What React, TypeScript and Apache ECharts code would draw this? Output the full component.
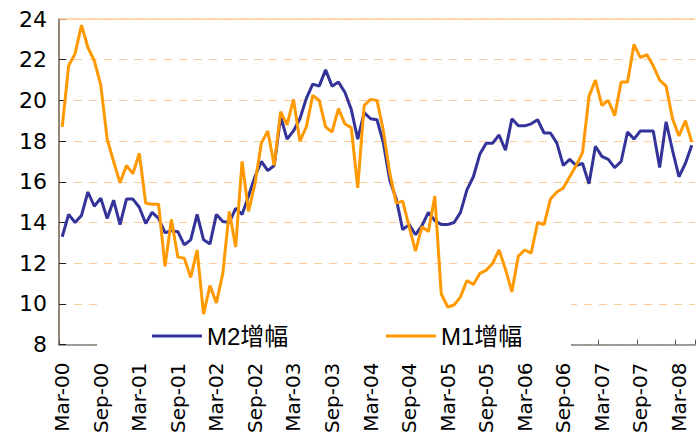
import React, { useEffect, useRef } from "react";
import * as echarts from "echarts";

const monthNames = ["Jan", "Feb", "Mar", "Apr", "May", "Jun", "Jul", "Aug", "Sep", "Oct", "Nov", "Dec"];
// Monthly categories Mar-00 .. May-08
const categories: string[] = [];
for (let y = 2000, m = 2; !(y === 2008 && m === 5); ) {
  categories.push(`${monthNames[m]}-${String(y % 100).padStart(2, "0")}`);
  m++;
  if (m === 12) { m = 0; y++; }
}

const m2Values = [
  13.3, 14.4, 14.0, 14.35, 15.5, 14.8, 15.2, 14.2, 15.1, 13.9,
  15.15, 15.15, 14.75, 13.95, 14.5, 14.2, 13.5, 13.6, 13.55, 12.9,
  13.15, 14.4, 13.15, 12.95, 14.4, 14.05, 14.0, 14.7, 14.4, 15.3,
  16.25, 17.0, 16.55, 16.8, 19.2, 18.1, 18.5, 19.1, 20.1, 20.8,
  20.7, 21.5, 20.7, 20.9, 20.4, 19.55, 18.1, 19.4, 19.1, 19.05,
  17.9, 16.05, 15.15, 13.65, 13.9, 13.4, 13.85, 14.5, 14.1, 13.9,
  13.9, 14.0, 14.5, 15.6, 16.25, 17.35, 17.9, 17.9, 18.3, 17.55,
  19.1, 18.75, 18.75, 18.85, 19.05, 18.4, 18.4, 17.9, 16.8, 17.1,
  16.8, 16.9, 15.9, 17.75, 17.25, 17.1, 16.7, 17.0, 18.45, 18.1,
  18.5, 18.5, 18.5, 16.7, 18.95, 17.55, 16.25, 16.9, 17.8,
];

const m1Values = [
  18.7, 21.7, 22.3, 23.7, 22.6, 21.95, 20.75, 18.1, 17.0, 15.95,
  16.8, 16.4, 17.4, 14.95, 14.9, 14.9, 11.85, 14.15, 12.3, 12.25,
  11.3, 12.65, 9.5, 10.9, 10.05, 11.5, 14.55, 12.8, 17.0, 14.55,
  15.9, 17.9, 18.5, 16.8, 19.45, 18.8, 20.05, 18.0, 18.7, 20.25,
  20.0, 18.7, 18.45, 19.6, 18.85, 18.65, 15.7, 19.75, 20.05, 20.0,
  18.5, 16.4, 14.95, 15.05, 13.8, 12.6, 13.8, 13.55, 15.3, 10.5,
  9.85, 9.95, 10.35, 11.15, 10.95, 11.5, 11.65, 12.0, 12.65, 11.7,
  10.6, 12.35, 12.65, 12.5, 14.0, 13.9, 15.15, 15.5, 15.7, 16.25,
  16.8, 17.45, 20.2, 21.0, 19.75, 20.0, 19.25, 20.9, 20.9, 22.75,
  22.1, 22.25, 21.7, 21.0, 20.7, 19.1, 18.25, 19.0, 17.95,
];

const yTicks = { min: 8, max: 24, interval: 2 };
const seriesNames = ["M2增幅", "M1增幅"];

export default function App() {
  const ref = useRef<HTMLDivElement>(null);
  useEffect(() => {
    if (!ref.current) return;
    const chart = echarts.init(ref.current, undefined, { renderer: "svg" });
    const legendText = {
      fontSize: 24,
      color: "#000",
      fontFamily: "'Liberation Sans', 'Noto Sans CJK SC', sans-serif",
    };
    chart.setOption({
      animation: false,
      backgroundColor: "#fff",
      grid: { left: 59, top: 19, right: 3, bottom: 83, containLabel: false },
      legend: [
        {
          data: [seriesNames[0]],
          left: 152,
          top: 324,
          padding: 0,
          icon: "rect",
          itemWidth: 50,
          itemHeight: 3,
          itemGap: 6,
          textStyle: legendText,
        },
        {
          data: [seriesNames[1]],
          left: 386,
          top: 324,
          padding: 0,
          icon: "rect",
          itemWidth: 50,
          itemHeight: 3,
          itemGap: 6,
          textStyle: legendText,
        },
      ],
      graphic: [
        {
          type: "rect",
          z: 1,
          silent: true,
          shape: { x: 97, y: 300, width: 474, height: 51 },
          style: { fill: "#fff" },
        },
      ],
      xAxis: {
        type: "category",
        data: categories,
        boundaryGap: true,
        axisLine: { show: true, lineStyle: { color: "#808080", width: 1.5 } },
        axisTick: { show: true, inside: true, length: 5, interval: 5, lineStyle: { color: "#555" } },
        axisLabel: {
          interval: 5,
          rotate: 90,
          margin: 18,
          fontSize: 20,
          color: "#000",
          fontFamily: "'DejaVu Sans', sans-serif",
        },
        splitLine: { show: false },
      },
      yAxis: {
        type: "value",
        min: yTicks.min,
        max: yTicks.max,
        interval: yTicks.interval,
        axisLine: { show: true, lineStyle: { color: "#735e4b", width: 1.5 } },
        axisTick: { show: true, inside: true, length: 7, lineStyle: { color: "#222" } },
        axisLabel: {
          margin: 12,
          fontSize: 22,
          color: "#000",
          fontFamily: "'DejaVu Sans', sans-serif",
        },
        splitLine: { show: true, lineStyle: { color: "#ffcc99", type: [8, 7], width: 1 } },
      },
      series: [
        {
          name: seriesNames[0],
          type: "line",
          data: m2Values,
          symbol: "none",
          z: 2,
          lineStyle: { color: "#333399", width: 3 },
          itemStyle: { color: "#333399" },
          markLine: {
            silent: true,
            symbol: ["none", "none"],
            label: { show: false },
            lineStyle: { color: "#ffcc99", type: "solid", width: 1.5 },
            data: [{ yAxis: 24 }],
          },
        },
        {
          name: seriesNames[1],
          type: "line",
          data: m1Values,
          symbol: "none",
          z: 3,
          lineStyle: { color: "#ff9900", width: 3 },
          itemStyle: { color: "#ff9900" },
        },
      ],
    });
    return () => chart.dispose();
  }, []);
  return (
    <div
      ref={ref}
      style={{ position: "absolute", left: 0, top: 0, width: 698, height: 436 }}
    />
  );
}
